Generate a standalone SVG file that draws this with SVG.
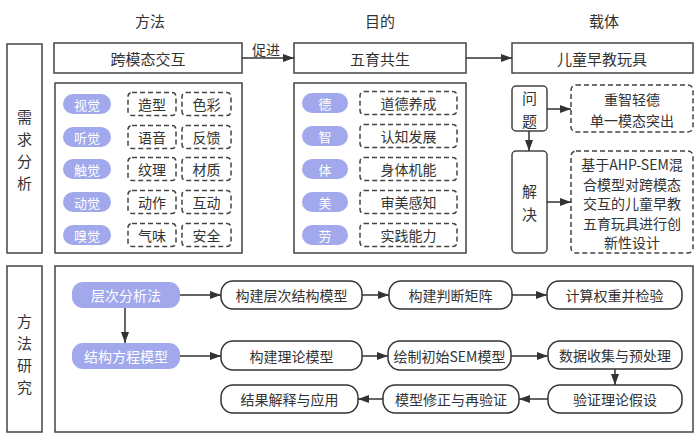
<svg xmlns="http://www.w3.org/2000/svg" width="698" height="437" viewBox="0 0 698 437">
<defs>
<marker id="ah" markerUnits="userSpaceOnUse" markerWidth="12" markerHeight="10" refX="11" refY="4" orient="auto">
<path d="M0,0 L11,4 L0,8 Z" fill="#333"/>
</marker>
<style>
text{font-family:"Noto Sans CJK SC","Liberation Sans",sans-serif;fill:#333;dominant-baseline:central;text-anchor:middle}
.box{fill:#fff;stroke:#444;stroke-width:1.5}
.dash{fill:#fff;stroke:#444;stroke-width:1.5;stroke-dasharray:5 3}
.pill{fill:#A1A8EC;stroke:none}
.pt{fill:#fff;font-size:13px}
.rb{fill:#fff;stroke:#333;stroke-width:1.5}
.t14{font-size:14px}
.t15{font-size:15px}
.t16{font-size:16px}
.con{stroke:#333;stroke-width:1.5;fill:none;marker-end:url(#ah)}
</style>
</defs>
<rect width="698" height="437" fill="#fff"/>

<g id="headers">
<text class="t15" x="150" y="20">方法</text>
<text class="t15" x="380" y="20">目的</text>
<text class="t15" x="604" y="20">载体</text>
</g>

<g id="label-xuqiu">
<rect class="box" x="7" y="44" width="35" height="209"/>
<text class="t15" x="24.5" y="116">需</text>
<text class="t15" x="24.5" y="138">求</text>
<text class="t15" x="24.5" y="160">分</text>
<text class="t15" x="24.5" y="182">析</text>
</g>
<g id="label-fangfa">
<rect class="box" x="7" y="266" width="35" height="166"/>
<text class="t15" x="24.5" y="320.5">方</text>
<text class="t15" x="24.5" y="342.5">法</text>
<text class="t15" x="24.5" y="364.5">研</text>
<text class="t15" x="24.5" y="386.5">究</text>
</g>

<g id="kuamotai">
<rect class="box" x="54" y="43" width="188" height="30"/>
<text class="t15" x="148" y="58">跨模态交互</text>
</g>
<g id="wuyu">
<rect class="box" x="294" y="43" width="172" height="30"/>
<text class="t15" x="380" y="58">五育共生</text>
</g>
<g id="wanju">
<rect class="box" x="512" y="43" width="181" height="30"/>
<text class="t15" x="602" y="58">儿童早教玩具</text>
</g>

<g id="panel-sense">
<rect class="box" x="55" y="83" width="187" height="170"/>
<rect class="pill" x="63" y="94" width="48" height="20" rx="10"/><text class="pt" x="87" y="104">视觉</text>
<rect class="dash" x="128" y="92.5" width="48" height="23" rx="4"/><text class="t14" x="152" y="104">造型</text>
<rect class="dash" x="182" y="92.5" width="49" height="23" rx="4"/><text class="t14" x="206.5" y="104">色彩</text>
<rect class="pill" x="63" y="127" width="48" height="20" rx="10"/><text class="pt" x="87" y="137">听觉</text>
<rect class="dash" x="128" y="125.5" width="48" height="23" rx="4"/><text class="t14" x="152" y="137">语音</text>
<rect class="dash" x="182" y="125.5" width="49" height="23" rx="4"/><text class="t14" x="206.5" y="137">反馈</text>
<rect class="pill" x="63" y="159" width="48" height="20" rx="10"/><text class="pt" x="87" y="169">触觉</text>
<rect class="dash" x="128" y="157.5" width="48" height="23" rx="4"/><text class="t14" x="152" y="169">纹理</text>
<rect class="dash" x="182" y="157.5" width="49" height="23" rx="4"/><text class="t14" x="206.5" y="169">材质</text>
<rect class="pill" x="63" y="192" width="48" height="20" rx="10"/><text class="pt" x="87" y="202">动觉</text>
<rect class="dash" x="128" y="190.5" width="48" height="23" rx="4"/><text class="t14" x="152" y="202">动作</text>
<rect class="dash" x="182" y="190.5" width="49" height="23" rx="4"/><text class="t14" x="206.5" y="202">互动</text>
<rect class="pill" x="63" y="225" width="48" height="20" rx="10"/><text class="pt" x="87" y="235">嗅觉</text>
<rect class="dash" x="128" y="223.5" width="48" height="23" rx="4"/><text class="t14" x="152" y="235">气味</text>
<rect class="dash" x="182" y="223.5" width="49" height="23" rx="4"/><text class="t14" x="206.5" y="235">安全</text>
</g>

<g id="panel-wuyu">
<rect class="box" x="294" y="83" width="172" height="170"/>
<rect class="pill" x="302" y="93" width="46" height="20" rx="10"/><text class="pt" x="325" y="103">德</text>
<rect class="dash" x="360" y="91.5" width="97" height="23" rx="4"/><text class="t14" x="408.5" y="103">道德养成</text>
<rect class="pill" x="302" y="126" width="46" height="20" rx="10"/><text class="pt" x="325" y="136">智</text>
<rect class="dash" x="360" y="124.5" width="97" height="23" rx="4"/><text class="t14" x="408.5" y="136">认知发展</text>
<rect class="pill" x="302" y="159" width="46" height="20" rx="10"/><text class="pt" x="325" y="169">体</text>
<rect class="dash" x="360" y="157.5" width="97" height="23" rx="4"/><text class="t14" x="408.5" y="169">身体机能</text>
<rect class="pill" x="302" y="192" width="46" height="20" rx="10"/><text class="pt" x="325" y="202">美</text>
<rect class="dash" x="360" y="190.5" width="97" height="23" rx="4"/><text class="t14" x="408.5" y="202">审美感知</text>
<rect class="pill" x="302" y="225" width="46" height="20" rx="10"/><text class="pt" x="325" y="235">劳</text>
<rect class="dash" x="360" y="223.5" width="97" height="23" rx="4"/><text class="t14" x="408.5" y="235">实践能力</text>
</g>

<g id="wenti">
<rect class="box" x="512" y="86" width="35" height="45" rx="4"/>
<text class="t15" x="529.5" y="97">问</text>
<text class="t15" x="529.5" y="120">题</text>
</g>
<g id="wenti-desc">
<rect class="dash" x="571" y="85" width="122" height="47" rx="5"/>
<text class="t14" x="632" y="99">重智轻德</text>
<text class="t14" x="632" y="120">单一模态突出</text>
</g>
<g id="jiejue">
<rect class="box" x="512" y="151" width="35" height="102" rx="4"/>
<text class="t15" x="529.5" y="190">解</text>
<text class="t15" x="529.5" y="213">决</text>
</g>
<g id="jiejue-desc">
<rect class="dash" x="571" y="151" width="122" height="102" rx="5"/>
<text class="t14" x="632" y="164">基于AHP-SEM混</text>
<text class="t14" x="632" y="183.5">合模型对跨模态</text>
<text class="t14" x="632" y="203">交互的儿童早教</text>
<text class="t14" x="632" y="222.5">五育玩具进行创</text>
<text class="t14" x="632" y="242">新性设计</text>
</g>

<g id="panel-method">
<rect class="box" x="55" y="266" width="638" height="166"/>
</g>
<g id="ahp">
<rect class="pill" x="72" y="282" width="108" height="26" rx="11"/>
<text class="pt" x="126" y="295" style="font-size:14px">层次分析法</text>
</g>
<g id="sem">
<rect class="pill" x="72" y="343" width="108" height="26" rx="11"/>
<text class="pt" x="126" y="356" style="font-size:14px">结构方程模型</text>
</g>
<g id="n1"><rect class="rb" x="221" y="281" width="141" height="28" rx="12"/><text class="t14" x="291.5" y="295">构建层次结构模型</text></g>
<g id="n2"><rect class="rb" x="389" y="281" width="123" height="28" rx="12"/><text class="t14" x="450.5" y="295">构建判断矩阵</text></g>
<g id="n3"><rect class="rb" x="547" y="281" width="135" height="28" rx="12"/><text class="t14" x="614.5" y="295">计算权重并检验</text></g>
<g id="n4"><rect class="rb" x="221" y="341" width="141" height="29" rx="12"/><text class="t14" x="291.5" y="355.5">构建理论模型</text></g>
<g id="n5"><rect class="rb" x="388" y="341" width="123" height="29" rx="12"/><text class="t14" x="449.5" y="355.5">绘制初始SEM模型</text></g>
<g id="n6"><rect class="rb" x="548" y="341" width="134" height="28" rx="12"/><text class="t14" x="615" y="355">数据收集与预处理</text></g>
<g id="n7"><rect class="rb" x="548" y="385" width="134" height="28" rx="12"/><text class="t14" x="615" y="399">验证理论假设</text></g>
<g id="n8"><rect class="rb" x="383" y="385" width="136" height="28" rx="12"/><text class="t14" x="451" y="399">模型修正与再验证</text></g>
<g id="n9"><rect class="rb" x="221" y="385" width="137" height="28" rx="12"/><text class="t14" x="289.5" y="399">结果解释与应用</text></g>

<g id="connectors">
<line class="con" x1="242" y1="58" x2="294" y2="58"/>
<text class="t14" x="266" y="49">促进</text>
<line class="con" x1="466" y1="58" x2="512" y2="58"/>
<line class="con" x1="547" y1="109" x2="571" y2="109"/>
<line class="con" x1="529" y1="131" x2="529" y2="151"/>
<line class="con" x1="547" y1="202" x2="571" y2="202"/>
<line class="con" x1="180" y1="295" x2="221" y2="295"/>
<line class="con" x1="362" y1="295" x2="389" y2="295"/>
<line class="con" x1="512" y1="295" x2="547" y2="295"/>
<line class="con" x1="125" y1="308" x2="125" y2="343"/>
<line class="con" x1="180" y1="356" x2="221" y2="356"/>
<line class="con" x1="362" y1="356" x2="388" y2="356"/>
<line class="con" x1="511" y1="356" x2="548" y2="356"/>
<line class="con" x1="615" y1="369" x2="615" y2="385"/>
<line class="con" x1="548" y1="399" x2="519" y2="399"/>
<line class="con" x1="383" y1="399" x2="358" y2="399"/>
</g>
</svg>
